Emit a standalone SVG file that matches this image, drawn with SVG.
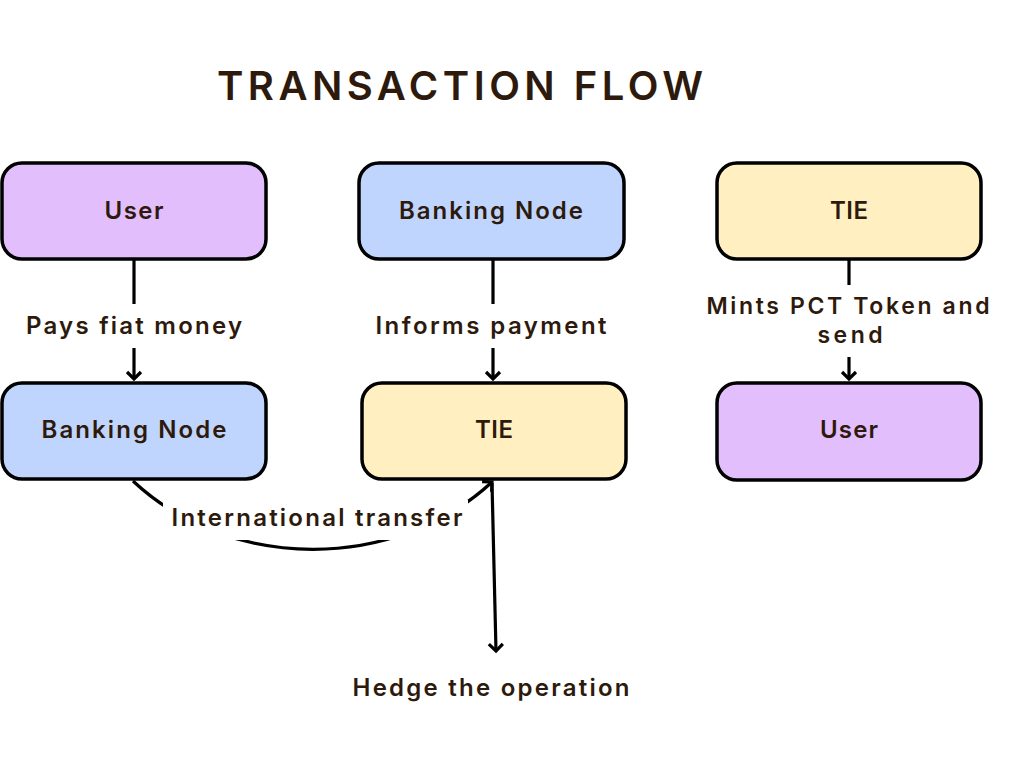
<svg xmlns="http://www.w3.org/2000/svg" width="1024" height="768" viewBox="0 0 1024 768">
<defs>
<style>
.box{stroke:#000;stroke-width:3.5}
.purple{fill:#e3befd}
.blue{fill:#c0d5fd}
.yellow{fill:#ffefc1}
.t{font-family:Inter,"Liberation Sans",sans-serif;font-weight:600;font-size:24px;fill:#2d1a0c;text-anchor:middle}
.ttl{font-family:Inter,"Liberation Sans",sans-serif;font-weight:600;font-size:40px;fill:#2d1a0c}
.c{stroke:#000;stroke-width:3.2;fill:none;stroke-linecap:butt}
</style>
<marker id="arr" markerUnits="userSpaceOnUse" markerWidth="20" markerHeight="20" viewBox="-10 -10 20 20" refX="0" refY="0" orient="auto">
<path d="M-7,-7 L0,0 L-7,7" fill="none" stroke="#000" stroke-width="3.2"/>
</marker>
</defs>
<rect width="1024" height="768" fill="#fff"/>
<text class="ttl" x="217" y="100" textLength="486" lengthAdjust="spacing">TRANSACTION FLOW</text>

<g id="connectors">
<line class="c" x1="134" y1="260" x2="134" y2="304"/>
<line class="c" x1="134" y1="348" x2="134" y2="379" marker-end="url(#arr)"/>
<line class="c" x1="493" y1="260" x2="493" y2="304"/>
<line class="c" x1="493" y1="348" x2="493" y2="379" marker-end="url(#arr)"/>
<line class="c" x1="849" y1="260" x2="849" y2="285"/>
<line class="c" x1="849" y1="357" x2="849" y2="379" marker-end="url(#arr)"/>
<path class="c" d="M133,481 C230,572 395,572 492,482" marker-end="url(#arr)"/>
<rect x="163" y="500" width="305" height="40" fill="#fff"/>
<line class="c" x1="492" y1="483" x2="496" y2="651" marker-end="url(#arr)"/>
<text class="t" x="134" y="334" textLength="216" lengthAdjust="spacing">Pays fiat money</text>
<text class="t" x="491" y="334" textLength="231" lengthAdjust="spacing">Informs payment</text>
<text class="t" style="font-size:23px"><tspan x="848" y="314" textLength="283" lengthAdjust="spacing">Mints PCT Token and</tspan><tspan x="850" y="343" textLength="65" lengthAdjust="spacing">send</tspan></text>
<text class="t" x="317" y="526" textLength="291" lengthAdjust="spacing">International transfer</text>
<text class="t" x="491" y="696" textLength="277" lengthAdjust="spacing">Hedge the operation</text>
</g>

<g id="user1">
<rect class="box purple" x="2" y="163" width="264" height="96" rx="20"/>
<text class="t" x="134" y="219" textLength="59" lengthAdjust="spacing">User</text>
</g>
<g id="banking1">
<rect class="box blue" x="2" y="383" width="264" height="96" rx="20"/>
<text class="t" x="134" y="438" textLength="185" lengthAdjust="spacing">Banking Node</text>
</g>
<g id="banking2">
<rect class="box blue" x="359" y="163" width="265" height="96" rx="20"/>
<text class="t" x="491" y="219" textLength="184" lengthAdjust="spacing">Banking Node</text>
</g>
<g id="tie2">
<rect class="box yellow" x="362" y="383" width="264" height="96" rx="20"/>
<text class="t" x="494" y="438" textLength="38" lengthAdjust="spacing">TIE</text>
</g>
<g id="tie3">
<rect class="box yellow" x="717" y="163" width="264" height="96" rx="20"/>
<text class="t" x="849" y="219" textLength="38" lengthAdjust="spacing">TIE</text>
</g>
<g id="user3">
<rect class="box purple" x="717" y="383" width="264" height="97" rx="20"/>
<text class="t" x="849" y="438" textLength="58" lengthAdjust="spacing">User</text>
</g>
</svg>
